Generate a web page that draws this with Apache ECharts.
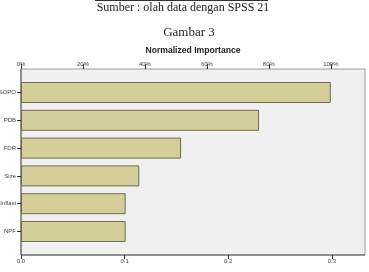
<!DOCTYPE html>
<html>
<head>
<meta charset="utf-8">
<script src="https://cdn.jsdelivr.net/npm/echarts@6/dist/echarts.min.js"></script>
<style>
  html, body { margin: 0; padding: 0; background: #fff; }
  #chart { width: 369px; height: 272px; }
</style>
</head>
<body>
<div id="chart"></div>
<script>
var variables = ['SOPO', 'PDB', 'FDR', 'Size', 'Inflasi', 'NPF'];
var importance = [0.299, 0.2297, 0.1545, 0.1142, 0.1010, 0.1010];
var bottomTicks = ['0.0', '0.1', '0.2', '0.3'];
var topTicks = ['0%', '20%', '40%', '60%', '80%', '100%'];

var axisMax = 0.332;
var topMax = axisMax / importance[0] * 100; // SOPO = 100%

var chart = echarts.init(document.getElementById('chart'));

var option = {
  animation: false,
  graphic: [
    // garis di atas sumber
    { type: 'line', z: 0, shape: { x1: 95, y1: 0.5, x2: 268, y2: 0.5 }, style: { stroke: '#333', lineWidth: 1 } },
    { type: 'text', x: 183, y: 2, style: { text: 'Sumber : olah data dengan SPSS 21', align: 'center', font: '12px "Liberation Serif"', fill: '#222' } },
    { type: 'text', x: 189, y: 26, style: { text: 'Gambar 3', align: 'center', font: '13px "Liberation Serif"', fill: '#222' } },
    { type: 'text', x: 193, y: 46, style: { text: 'Normalized Importance', align: 'center', font: 'bold 8.6px "Liberation Sans"', fill: '#222' } },
    // kotak plot
    { type: 'rect', z: 0, shape: { x: 21, y: 69, width: 344, height: 186 }, style: { fill: '#f0f0f0', stroke: '#9a9a9a', lineWidth: 1 } },
    { type: 'line', z: 0, shape: { x1: 21, y1: 69, x2: 21, y2: 255 }, style: { stroke: '#555', lineWidth: 1 } },
    { type: 'line', z: 0, shape: { x1: 21, y1: 255, x2: 365, y2: 255 }, style: { stroke: '#555', lineWidth: 1 } }
  ],
  grid: { left: 21, right: 4, top: 78.6, bottom: 26.6, outerBoundsMode: 'none' },
  xAxis: [
    {
      type: 'value', position: 'bottom', min: 0, max: axisMax, interval: 0.1, offset: 9.6,
      axisLine: { show: false },
      axisTick: { show: true, length: 4, lineStyle: { color: '#333', width: 1 } },
      axisLabel: {
        fontSize: 6, color: '#444', margin: 3,
        formatter: function (v) { return bottomTicks[Math.round(v * 10)] || ''; },
        showMaxLabel: false
      },
      splitLine: { show: false },
      name: 'Importance', nameLocation: 'middle', nameGap: 19,
      nameTextStyle: { fontSize: 9, color: '#333', fontWeight: 'bold' }
    },
    {
      type: 'value', position: 'top', min: 0, max: topMax, interval: 20, offset: 9.6,
      axisLine: { show: false },
      axisTick: { show: true, length: 5, lineStyle: { color: '#333', width: 1 } },
      axisLabel: {
        fontSize: 6, color: '#444', margin: 2,
        formatter: function (v) { return topTicks[Math.round(v / 20)] || ''; },
        showMaxLabel: false
      },
      splitLine: { show: false }
    }
  ],
  yAxis: {
    type: 'category', data: variables, inverse: true,
    axisLine: { show: false },
    axisTick: { show: true, alignWithLabel: true, length: 4, lineStyle: { color: '#333', width: 1 } },
    axisLabel: { fontSize: 6, color: '#444', margin: 5 }
  },
  series: [{
    type: 'bar',
    xAxisIndex: 0,
    data: importance,
    barWidth: 21,
    itemStyle: { color: '#d4cf98', borderColor: '#6e6b55', borderWidth: 1 }
  }]
};

chart.setOption(option);
</script>
</body>
</html>
